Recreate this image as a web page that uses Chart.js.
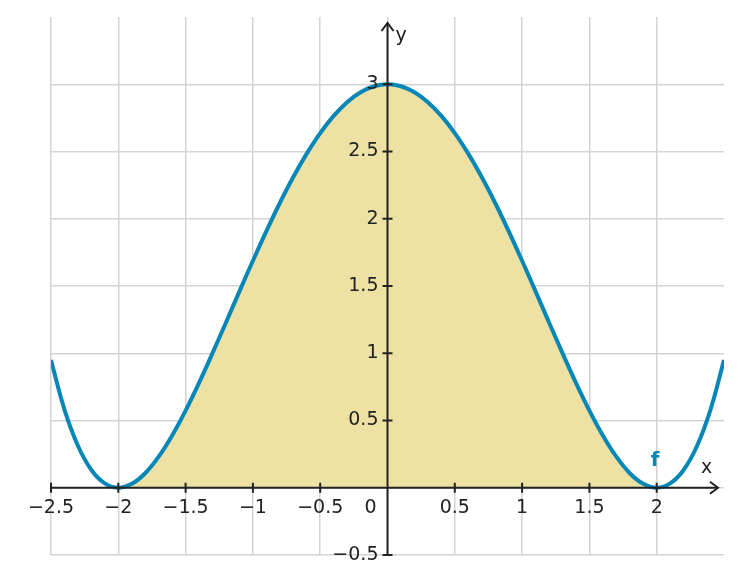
<!DOCTYPE html>
<html><head><meta charset="utf-8">
<script src="https://cdn.jsdelivr.net/npm/chart.js@4"></script>
<style>html,body{margin:0;padding:0;background:#fff}#w{width:742px;height:584px}</style>
</head><body><div id="w"><canvas id="c"></canvas></div>
<script>
const xs=[-2.5,-2.4,-2.3,-2.2,-2.1,-2.0,-1.9,-1.8,-1.7,-1.6,-1.5,-1.4,-1.3,-1.2,-1.1,-1.0,-0.9,-0.8,-0.7,-0.6,-0.5,-0.4,-0.3,-0.2,-0.1,0,0.1,0.2,0.3,0.4,0.5,0.6,0.7,0.8,0.9,1.0,1.1,1.2,1.3,1.4,1.5,1.6,1.7,1.8,1.9,2.0,2.1,2.2,2.3,2.4,2.5];
const ys=[0.949,0.581,0.312,0.132,0.032,0,0.029,0.108,0.231,0.389,0.574,0.780,1.001,1.229,1.460,1.6875,1.908,2.117,2.310,2.484,2.637,2.765,2.867,2.940,2.985,3,2.985,2.940,2.867,2.765,2.637,2.484,2.310,2.117,1.908,1.6875,1.460,1.229,1.001,0.780,0.574,0.389,0.231,0.108,0.029,0,0.032,0.132,0.312,0.581,0.949];
const xTicks=[-2.5,-2,-1.5,-1,-0.5,0,0.5,1,1.5,2];
const yTicks=[-0.5,0,0.5,1,1.5,2,2.5,3];
const fmt=v=>String(v).replace('-','\u2212');
const curve=xs.map((x,i)=>({x,y:ys[i]}));
const fillPts=curve.filter(p=>p.x>=-2&&p.x<=2);
const BLUE='#0786b8', INK='#222';
const deco={id:'deco',afterDraw(ch){
 const c=ch.ctx,xs_=ch.scales.x,ys_=ch.scales.y,a=ch.chartArea;
 const ox=xs_.getPixelForValue(0),oy=ys_.getPixelForValue(0);
 c.save();c.strokeStyle=INK;c.fillStyle=INK;c.lineWidth=2;
 c.beginPath();c.moveTo(a.left,oy);c.lineTo(718,oy);c.stroke();
 c.beginPath();c.moveTo(710,oy-6);c.lineTo(718,oy);c.lineTo(710,oy+6);c.stroke();
 c.beginPath();c.moveTo(ox,a.bottom);c.lineTo(ox,23);c.stroke();
 c.beginPath();c.moveTo(ox-6,31);c.lineTo(ox,23);c.lineTo(ox+6,31);c.stroke();
 xTicks.forEach(t=>{if(t===0)return;const p=xs_.getPixelForValue(t);c.beginPath();c.moveTo(p,oy-5);c.lineTo(p,oy+5);c.stroke();});
 yTicks.forEach(t=>{if(t===0)return;const p=ys_.getPixelForValue(t);c.beginPath();c.moveTo(ox-5,p);c.lineTo(ox+5,p);c.stroke();});
 c.font='19px "DejaVu Sans"';c.textBaseline='middle';
 c.textAlign='center';
 xTicks.forEach(t=>{const p=t===0?ox-17:xs_.getPixelForValue(t);c.fillText(fmt(t),p,oy+20);});
 c.textAlign='right';
 yTicks.forEach(t=>{if(t===0)return;c.fillText(fmt(t),ox-9,ys_.getPixelForValue(t));});
 c.textAlign='left';c.fillText('x',701,oy-20);c.fillText('y',ox+8,36);
 c.fillStyle=BLUE;c.font='bold 20px "DejaVu Sans"';c.textAlign='center';c.fillText('f',655,461);
 c.restore();}};
new Chart(document.getElementById('c'),{type:'scatter',
 data:{datasets:[
  {data:fillPts,order:2,showLine:true,fill:{value:0},backgroundColor:'#ede1a4',borderColor:'rgba(0,0,0,0)',borderWidth:0,pointRadius:0,tension:0.4},
  {data:curve,order:1,showLine:true,borderColor:BLUE,borderWidth:4,pointRadius:0,tension:0.4,fill:false}]},
 options:{responsive:true,maintainAspectRatio:false,animation:false,
  layout:{padding:{left:51,right:18,top:17,bottom:29}},
  plugins:{legend:{display:false},tooltip:{enabled:false}},
  scales:{
   x:{type:'linear',min:-2.5,max:2.5,position:{y:0},afterBuildTicks:s=>{s.ticks=[-2.5,-2,-1.5,-1,-0.5,0,0.5,1,1.5,2].map(v=>({value:v}));},
      ticks:{display:false},grid:{color:'#d4d4d4',lineWidth:1.5,drawTicks:false},border:{display:false}},
   y:{type:'linear',min:-0.5,max:3.5,position:{x:0},afterBuildTicks:s=>{s.ticks=[-0.5,0,0.5,1,1.5,2,2.5,3].map(v=>({value:v}));},
      ticks:{display:false},grid:{color:'#d4d4d4',lineWidth:1.5,drawTicks:false},border:{display:false}}}},
 plugins:[deco]});
</script></body></html>
